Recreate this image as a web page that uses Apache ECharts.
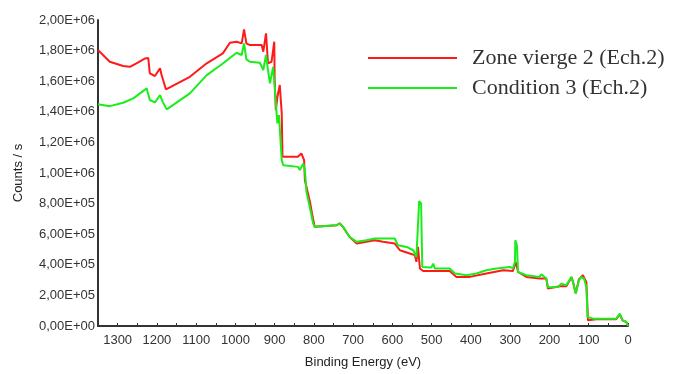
<!DOCTYPE html>
<html>
<head>
<meta charset="utf-8">
<script src="https://cdn.jsdelivr.net/npm/echarts@6/dist/echarts.min.js"></script>
<style>html,body{margin:0;padding:0;background:#fff}#c{width:673px;height:374px}</style>
</head>
<body>
<div id="c"></div>
<script>
const seriesNames = ['Zone vierge 2 (Ech.2)', 'Condition 3 (Ech.2)'];
const xAxisName = 'Binding Energy (eV)';
const yAxisName = 'Counts / s';

const redEnergy = [1350,1320,1286,1269,1252,1230,1222,1218,1205,1192,1188,1177,1167,1116,1073,1032,1014,997,984,978,972,963,933,929,922,917,908,901,900,897,893,887,882,880,841,832,825,823,810,805,798,742,734,726,709,691,645,624,594,581,556,543,539,535,530,522,454,437,403,361,318,293,286,280,259,225,208,204,174,170,157,144,140,133,129,125,115,106,102,80,30,21,14,4,0];
const redCounts = [1.804,1.727,1.699,1.694,1.717,1.749,1.751,1.651,1.634,1.684,1.640,1.547,1.560,1.629,1.717,1.782,1.851,1.858,1.847,1.939,1.847,1.836,1.836,1.793,1.913,1.717,1.727,1.858,1.607,1.411,1.498,1.575,1.391,1.106,1.106,1.128,1.084,0.953,0.811,0.737,0.648,0.659,0.670,0.648,0.582,0.539,0.561,0.550,0.539,0.495,0.474,0.463,0.419,0.517,0.376,0.360,0.360,0.321,0.321,0.343,0.364,0.360,0.419,0.353,0.321,0.310,0.310,0.245,0.260,0.273,0.260,0.319,0.286,0.214,0.214,0.305,0.332,0.286,0.037,0.044,0.044,0.077,0.037,0.026,0].map(v => v * 1e6);

const greenEnergy = [1350,1320,1286,1260,1226,1218,1205,1192,1185,1175,1116,1073,1031,997,984,978,972,963,938,929,922,917,912,904,900,895,893,889,884,882,878,840,836,827,823,819,810,802,798,742,734,726,709,691,666,645,594,586,564,547,539,535,532,527,524,501,496,492,454,441,411,386,361,335,301,293,288,287,283,280,259,225,221,208,204,178,170,157,144,140,133,129,125,119,112,106,103,89,30,21,14,4,0];
const greenCounts = [1.450,1.437,1.459,1.488,1.553,1.477,1.461,1.509,1.465,1.416,1.520,1.640,1.717,1.786,1.771,1.847,1.743,1.727,1.721,1.673,1.771,1.673,1.586,1.694,1.564,1.390,1.324,1.378,1.367,1.084,1.051,1.040,1.019,1.062,1.019,0.877,0.770,0.670,0.648,0.659,0.670,0.648,0.582,0.550,0.561,0.572,0.572,0.528,0.517,0.495,0.451,0.451,0.816,0.801,0.386,0.382,0.408,0.376,0.376,0.343,0.332,0.343,0.364,0.376,0.386,0.376,0.419,0.561,0.528,0.353,0.332,0.321,0.338,0.310,0.253,0.255,0.277,0.266,0.321,0.288,0.212,0.212,0.299,0.321,0.310,0.255,0.059,0.048,0.048,0.081,0.037,0.026,0].map(v => v * 1e6);

const xTicks = [0, 100, 200, 300, 400, 500, 600, 700, 800, 900, 1000, 1100, 1200, 1300];

function sci(v) {
  if (v === 0) return '0,00E+00';
  const e = Math.floor(Math.log10(v) + 1e-9);
  const m = v / Math.pow(10, e);
  return m.toFixed(2).replace('.', ',') + 'E+' + (e < 10 ? '0' + e : e);
}

const chart = echarts.init(document.getElementById('c'), null, {renderer: 'canvas'});
chart.setOption({
  animation: false,
  backgroundColor: '#fff',
  grid: {left: 98, right: 45, top: 20, bottom: 48, containLabel: false},
  legend: {
    orient: 'vertical',
    left: 368, top: 47,
    padding: 0,
    itemGap: 8,
    itemWidth: 89, itemHeight: 2,
    icon: 'rect',
    textStyle: {fontFamily: 'Liberation Serif', fontSize: 22, color: '#333', lineHeight: 20, padding: [0, 0, 0, 10]},
    data: seriesNames
  },
  xAxis: {
    type: 'value', inverse: true, min: 0, max: 1350, interval: 50,
    name: xAxisName, nameLocation: 'middle', nameGap: 30,
    nameTextStyle: {fontFamily: 'Liberation Sans', fontSize: 13, color: '#222'},
    axisLine: {show: true, onZero: false, lineStyle: {color: '#333', width: 2}},
    axisTick: {show: true, inside: true, length: 3, lineStyle: {color: '#333'}},
    splitLine: {show: false},
    axisLabel: {
      fontFamily: 'Liberation Sans', fontSize: 13, color: '#333', margin: 8,
      formatter: v => xTicks.indexOf(v) >= 0 ? String(v) : ''
    }
  },
  yAxis: {
    type: 'value', min: 0, max: 2000000, interval: 200000, position: 'left',
    name: yAxisName, nameLocation: 'middle', nameGap: 73,
    nameTextStyle: {fontFamily: 'Liberation Sans', fontSize: 13, color: '#222'},
    axisLine: {show: true, onZero: false, lineStyle: {color: '#333', width: 2}},
    axisTick: {show: false},
    splitLine: {show: false},
    axisLabel: {fontFamily: 'Liberation Sans', fontSize: 13, color: '#333', margin: 3, formatter: sci}
  },
  series: [
    {
      name: seriesNames[0], type: 'line', showSymbol: false, symbol: 'none',
      color: '#ff1a1a', lineStyle: {width: 2, color: '#ff1a1a'},
      data: redEnergy.map((e, i) => [e, redCounts[i]])
    },
    {
      name: seriesNames[1], type: 'line', showSymbol: false, symbol: 'none',
      color: '#1aee1a', lineStyle: {width: 2, color: '#1aee1a'},
      data: greenEnergy.map((e, i) => [e, greenCounts[i]])
    }
  ]
});
</script>
</body>
</html>
